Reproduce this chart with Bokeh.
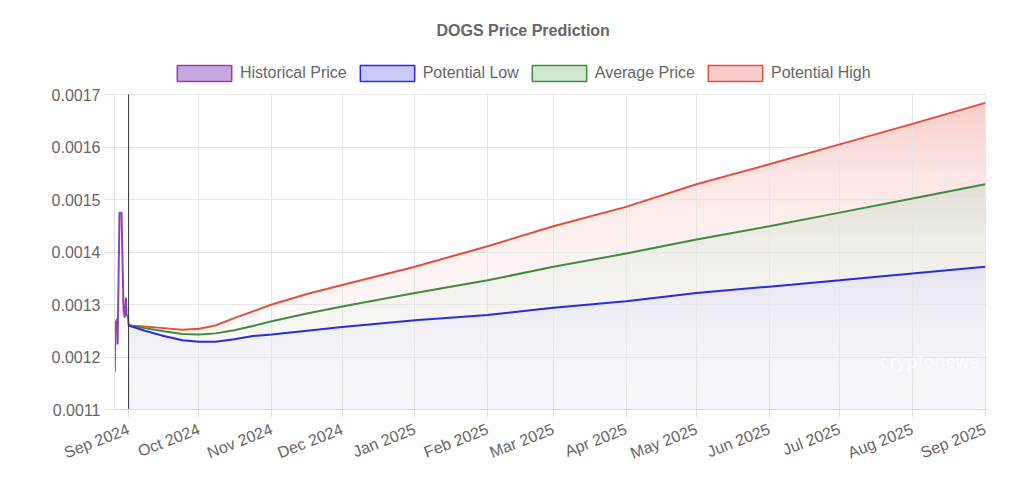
from datetime import datetime
import numpy as np
from bokeh.plotting import figure
from bokeh.models import (Range1d, FixedTicker, DatetimeTickFormatter, PrintfTickFormatter,
                          Legend, LegendItem, Label, ColumnDataSource, Grid)
from bokeh.embed import file_html
from bokeh.resources import INLINE

# ---------------- data ----------------
title_text = "DOGS Price Prediction"
series_names = ["Historical Price", "Potential Low", "Average Price", "Potential High"]

hist_dates = ["2024-08-26 03:00", "2024-08-26 10:00", "2024-08-27 04:00", "2024-08-27 08:00",
              "2024-08-28 03:00", "2024-08-29 00:00", "2024-08-29 20:00", "2024-08-30 09:00",
              "2024-08-30 21:00", "2024-08-31 04:00", "2024-08-31 18:00", "2024-09-01 00:00"]
hist_price = [0.001172, 0.001266, 0.001272, 0.001224,
              0.001475, 0.001475, 0.001290, 0.001275,
              0.001313, 0.001280, 0.001278, 0.001260]

pred_dates = ["2024-09-01", "2024-09-08", "2024-09-16", "2024-09-24", "2024-10-01",
              "2024-10-08", "2024-10-16", "2024-10-24", "2024-11-01", "2024-11-16",
              "2024-12-01", "2025-01-01", "2025-02-01", "2025-03-01", "2025-04-01",
              "2025-05-01", "2025-06-01", "2025-07-01", "2025-08-01", "2025-09-01"]
potential_low = [0.001260, 0.001250, 0.001240, 0.001232, 0.001229,
                 0.001229, 0.001234, 0.001240, 0.001243, 0.001250,
                 0.001257, 0.001270, 0.001280, 0.001294, 0.001306,
                 0.001322, 0.001334, 0.001346, 0.001359, 0.001372]
average_price = [0.001260, 0.001255, 0.001249, 0.001244, 0.001243,
                 0.001245, 0.001251, 0.001259, 0.001268, 0.001283,
                 0.001296, 0.001322, 0.001346, 0.001372, 0.001397,
                 0.001424, 0.001449, 0.001475, 0.001502, 0.001529]
potential_high = [0.001260, 0.001258, 0.001255, 0.001252, 0.001254,
                  0.001260, 0.001274, 0.001287, 0.001300, 0.001320,
                  0.001337, 0.001372, 0.001411, 0.001449, 0.001486,
                  0.001529, 0.001567, 0.001605, 0.001644, 0.001684]

month_ticks = ["2024-09-01", "2024-10-01", "2024-11-01", "2024-12-01", "2025-01-01",
               "2025-02-01", "2025-03-01", "2025-04-01", "2025-05-01", "2025-06-01",
               "2025-07-01", "2025-08-01", "2025-09-01"]
y_ticks = [0.0011, 0.0012, 0.0013, 0.0014, 0.0015, 0.0016, 0.0017]

x_first, x_last = "2024-08-26", "2025-09-02"
today_marker = "2024-09-01"
watermark = "cryptonews"

# ---------------- helpers ----------------
EPOCH = datetime(1970, 1, 1)


def to_dt(s):
    fmt = "%Y-%m-%d %H:%M" if " " in s else "%Y-%m-%d"
    return datetime.strptime(s, fmt)


def to_ms(s):
    return (to_dt(s) - EPOCH).total_seconds() * 1000.0


FONT = "Liberation Sans"
TEXT = "#666666"
GRID = "#e6e6e6"

C_HIST = "#8e44ad"
C_LOW = "#2a2ae6"
C_AVG = "#3d8c40"
C_HIGH = "#e74c3c"

# layout (pixels)
DATA_H = 315          # height of the value area
LEGEND_ROOM = 40      # extra frame room above the value area that holds the legend
y_lo, y_hi = y_ticks[0], y_ticks[-1]
y_top = y_hi + (y_hi - y_lo) * LEGEND_ROOM / DATA_H
x_start, x_end = to_ms(x_first), to_ms(x_last)

p = figure(width=1015, height=475, x_axis_type="datetime",
           x_range=Range1d(x_start, x_end), y_range=Range1d(y_lo, y_top),
           output_backend="svg", toolbar_location=None, title=title_text,
           min_border_left=114, min_border_top=54, min_border_bottom=66,
           min_border_right=28)
p.outline_line_color = None
p.background_fill_color = "white"
p.border_fill_color = "white"

# ---------------- fills (to origin) ----------------
src = ColumnDataSource(dict(x=[to_dt(d) for d in pred_dates], low=potential_low,
                            avg=average_price, high=potential_high))
p.varea(x="x", y1=y_lo, y2="high", source=src, fill_color=(231, 76, 60), fill_alpha=0.3,
        level="image")
p.varea(x="x", y1=y_lo, y2="avg", source=src, fill_color=(50, 140, 70), fill_alpha=0.3,
        level="image")
p.varea(x="x", y1=y_lo, y2="low", source=src, fill_color=(0, 0, 255), fill_alpha=0.3,
        level="image")

# vertical gradient (fades the fills towards the bottom, like a canvas gradient)
N = DATA_H
ypx = N - (np.arange(N) + 0.5)
g = np.exp(-ypx / 109.0)
alpha = np.clip(np.round(255 * (1 - g)), 0, 255).astype(np.uint8)
img = np.zeros((N, 1), dtype=np.uint32)
view = img.view(dtype=np.uint8).reshape((N, 1, 4))
view[:, 0, 0] = 255
view[:, 0, 1] = 255
view[:, 0, 2] = 255
view[:, 0, 3] = alpha
p.image_rgba(image=[img], x=x_start, y=y_lo, dw=x_end - x_start, dh=y_hi - y_lo,
             level="image")

# ---------------- lines ----------------
p.line([to_dt(d) for d in hist_dates], hist_price, line_color=C_HIST, line_width=2)
p.line("x", "high", source=src, line_color=C_HIGH, line_width=2)
p.line("x", "avg", source=src, line_color=C_AVG, line_width=2)
p.line("x", "low", source=src, line_color=C_LOW, line_width=2)

# "today" marker
p.segment(x0=[to_dt(today_marker)], y0=[y_lo], x1=[to_dt(today_marker)], y1=[y_hi],
          line_color="#333333", line_width=1)

# watermark
p.add_layout(Label(x=to_ms("2025-07-18"), y=0.00119, text=watermark, text_color="white",
                   text_alpha=0.7, text_font=FONT, text_font_size="18px",
                   text_font_style="bold", text_baseline="middle"))

# ---------------- legend (boxes) ----------------
box_fills = ["#c9a6de", "#c8c8f6", "#cfe6cc", "#f9cdcc"]
box_lines = [C_HIST, C_LOW, C_AVG, C_HIGH]
items = []
for name, fc, lc in zip(series_names, box_fills, box_lines):
    r = p.quad(left=[np.nan], right=[np.nan], top=[np.nan], bottom=[np.nan],
               fill_color=fc, line_color=lc, line_width=1.5)
    items.append(LegendItem(label=name, renderers=[r]))
legend = Legend(items=items, orientation="horizontal", location=(56, DATA_H + 11),
                glyph_width=68, glyph_height=20, label_height=20, label_standoff=2,
                spacing=6, padding=4, margin=0, border_line_color=None,
                background_fill_alpha=0, label_text_font=FONT,
                label_text_font_size="16px", label_text_color=TEXT)
p.add_layout(legend, "center")

# ---------------- title ----------------
p.title.text_font = FONT
p.title.text_font_size = "16px"
p.title.text_font_style = "bold"
p.title.text_color = TEXT
p.title.align = "left"
p.title.offset = 322
p.title.standoff = 31

# ---------------- axes ----------------
xt = FixedTicker(ticks=[to_ms(d) for d in month_ticks])
p.xaxis.ticker = xt
fmt = "%b %Y"
p.xaxis.formatter = DatetimeTickFormatter(years=fmt, months=fmt, days=fmt, hours=fmt,
                                          minutes=fmt, seconds=fmt, milliseconds=fmt,
                                          microseconds=fmt, hourmin=fmt, minsec=fmt)
p.xaxis.major_label_orientation = 0.37
p.xaxis.major_label_standoff = 11
p.xaxis.major_tick_out = 8
p.xaxis.major_tick_in = 0
p.xaxis.minor_tick_line_color = None
p.xaxis.axis_line_color = "#d6d6d6"
p.xaxis.major_tick_line_color = "#e0e0e0"

yt = FixedTicker(ticks=y_ticks)
p.yaxis.ticker = yt
p.ygrid.ticker = yt
p.yaxis.bounds = (y_lo, y_hi)
p.yaxis.formatter = PrintfTickFormatter(format="%.4f")
p.yaxis.major_label_standoff = 4
p.yaxis.major_tick_out = 10
p.yaxis.major_tick_in = 0
p.yaxis.minor_tick_line_color = None
p.yaxis.axis_line_color = "#e0e0e0"
p.yaxis.major_tick_line_color = "#e0e0e0"

for ax in (p.xaxis, p.yaxis):
    ax.major_label_text_font = FONT
    ax.major_label_text_font_size = "16px"
    ax.major_label_text_color = TEXT

p.ygrid.grid_line_color = GRID
if "cross_bounds" in Grid.properties():
    p.xgrid.ticker = xt
    p.xgrid.cross_bounds = (y_lo, y_hi)
    p.xgrid.grid_line_color = GRID
else:
    p.xgrid.grid_line_color = None
    tick_dt = [to_dt(d) for d in month_ticks]
    p.segment(x0=tick_dt, y0=[y_lo] * len(tick_dt), x1=tick_dt, y1=[y_hi] * len(tick_dt),
              line_color=GRID, line_width=1, level="underlay")

open("out.html", "w").write(file_html(p, INLINE))
